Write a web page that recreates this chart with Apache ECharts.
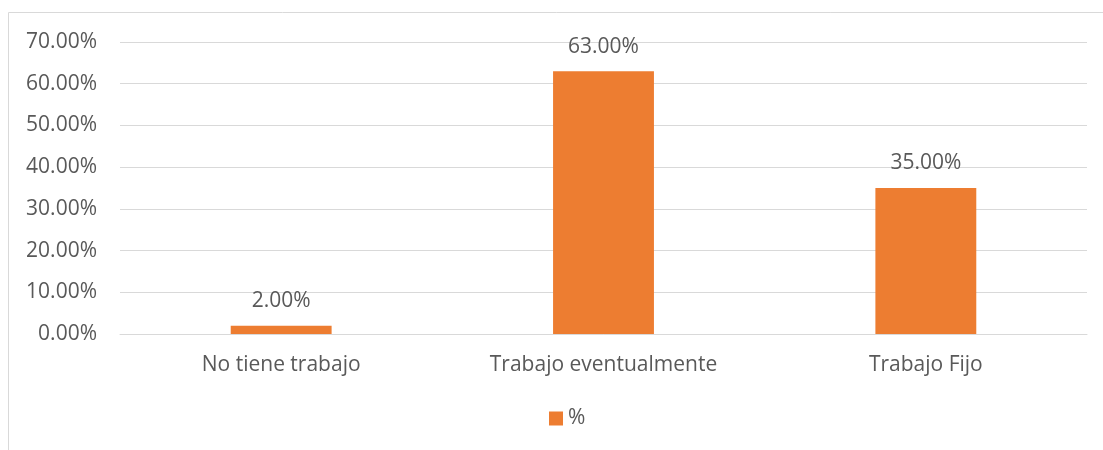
<!DOCTYPE html>
<html>
<head>
<meta charset="utf-8">
<script src="https://cdn.jsdelivr.net/npm/echarts@6/dist/echarts.min.js"></script>
<style>
  html, body { margin: 0; padding: 0; background: #fff; }
  #chart { width: 1103px; height: 450px; }
</style>
</head>
<body>
<div id="chart"></div>
<script>
const categories = ["No tiene trabajo", "Trabajo eventualmente", "Trabajo Fijo"]
const percentValues = [2, 63, 35]
const seriesName = "%"

const chart = echarts.init(document.getElementById("chart"))
const textColor = "#595959"
const font = "Open Sans"

chart.setOption({
  animation: false,
  // chart frame is cut off on right and bottom in the reference
  graphic: [{
    type: "rect",
    shape: { x: 8.5, y: 12.5, width: 1200, height: 500 },
    style: { fill: "none", stroke: "#d9d9d9", lineWidth: 1 },
    silent: true
  }],
  grid: { left: 120, right: 16, top: 42, bottom: 116 },
  legend: {
    bottom: 16,
    left: 544,
    itemWidth: 14,
    itemHeight: 14,
    itemGap: 6,
    icon: "rect",
    textStyle: { color: textColor, fontFamily: font, fontSize: 21 },
    data: [seriesName]
  },
  xAxis: {
    type: "category",
    data: categories,
    axisLine: { lineStyle: { color: "#d9d9d9", width: 1 } },
    axisTick: { show: false },
    axisLabel: { color: textColor, fontFamily: font, fontSize: 21, margin: 21 }
  },
  yAxis: {
    type: "value",
    min: 0,
    max: 70,
    interval: 10,
    axisLine: { show: false },
    axisTick: { show: false },
    splitLine: { lineStyle: { color: "#d9d9d9", width: 1 } },
    axisLabel: {
      color: textColor,
      fontFamily: font,
      fontSize: 21,
      margin: 23,
      formatter: (v) => v.toFixed(2) + "%"
    }
  },
  series: [{
    name: seriesName,
    type: "bar",
    data: percentValues,
    barWidth: "31.3%",
    itemStyle: { color: "#ED7D31" },
    label: {
      show: true,
      position: "top",
      distance: 14,
      color: textColor,
      fontFamily: font,
      fontSize: 21,
      formatter: (p) => p.value.toFixed(2) + "%"
    }
  }]
})
</script>
</body>
</html>
